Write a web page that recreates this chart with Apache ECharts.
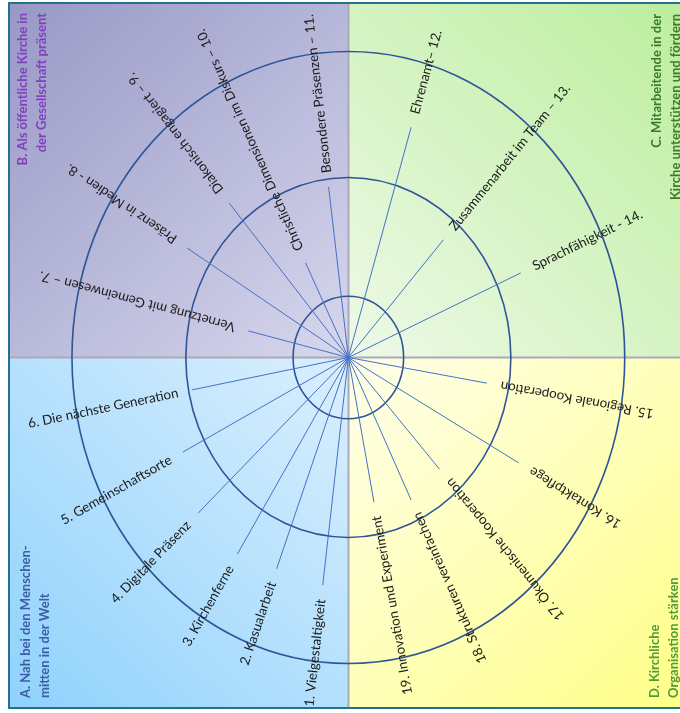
<!DOCTYPE html>
<html><head><meta charset="utf-8">
<script src="https://cdn.jsdelivr.net/npm/echarts/dist/echarts.min.js"></script>
<style>html,body{margin:0;padding:0;background:#fff}#c{width:680px;height:713px}</style>
</head><body><div id="c"></div>
<script>
// Spoke labels (items 1..19)
const labels = [
  '1. Vielgestaltigkeit',
  '2. Kasualarbeit',
  '3. Kirchenferne',
  '4. Digitale Präsenz',
  '5. Gemeinschaftsorte',
  '6. Die nächste Generation',
  'Vernetzung mit Gemeinwesen – 7.',
  'Präsenz in Medien - 8.',
  'Diakonisch engagiert – 9.',
  'Christliche Dimensionen im Diskurs – 10.',
  'Besondere Präsenzen – 11.',
  'Ehrenamt– 12.',
  'Zusammenarbeit im Team – 13.',
  'Sprachfähigkeit - 14.',
  '15. Regionale Kooperation',
  '16. Kontaktpflege',
  '17. Ökumenische Kooperation',
  '18. Strukturen vereinfachen',
  '19. Innovation und Experiment'
];
// Spoke direction (degrees, counter-clockwise from east) and length (ring units)
const angles  = [262.9, 249.4, 238.0, 223.1, 207.3, 190.6, 166.5, 148.5, 130.5, 116.6, 97.3, 73.2, 48.2, 23.9, 350.5, 330.8, 312.1, 296.0, 281.1];
const lengths = [3.75, 3.69, 3.79, 3.72, 3.37, 2.88, 1.86, 3.42, 3.32, 1.73, 2.81, 3.93, 2.58, 3.41, 2.54, 3.53, 2.46, 2.59, 2.41];
// Concentric rings
const ringRadii = [1, 2.94, 5];
// Quadrant titles
const titleA = 'A. Nah bei den Menschen-\nmitten in der Welt';
const titleB = 'B. Als öffentliche Kirche in\nder Gesellschaft präsent';
const titleC = 'C. Mitarbeitende in der\nKirche unterstützen und fördern';
const titleD = 'D. Kirchliche\nOrganisation stärken';

const spokeData = angles.map((a, i) => {
  const r = a * Math.PI / 180;
  return [lengths[i] * Math.cos(r), lengths[i] * Math.sin(r)];
});
const ringData = ringRadii.map(r => [r, 0]);

function grad(x, y, x2, y2, c1, c2) {
  return {type: 'linear', x: x, y: y, x2: x2, y2: y2, colorStops: [{offset: 0, color: c1}, {offset: 1, color: c2}]};
}

const CX = 348.5, CY = 357.5, L = 9, T = 3, R = 692, B = 708;
const TF = 'bold 13px Lato';

const chart = echarts.init(document.getElementById('c'), null, {renderer: 'canvas'});
chart.setOption({
  animation: false,
  grid: {left: CX - 6 * 55.3, top: CY - 5.5 * 61.2, width: 12 * 55.3, height: 11 * 61.2},
  xAxis: {type: 'value', min: -6, max: 6, show: false},
  yAxis: {type: 'value', min: -5.5, max: 5.5, show: false},
  graphic: [
    {type: 'rect', silent: true, z: 0, shape: {x: L, y: T, width: CX - L, height: CY - T},
      style: {fill: grad(0, 0, 1, 1, '#9898c6', '#d7d7ed')}},
    {type: 'rect', silent: true, z: 0, shape: {x: CX, y: T, width: R - CX, height: CY - T},
      style: {fill: grad(0, 1, 1, 0, '#eef9e8', '#bbee9c')}},
    {type: 'rect', silent: true, z: 0, shape: {x: L, y: CY, width: CX - L, height: B - CY},
      style: {fill: grad(1, 0, 0, 1, '#dbeffe', '#8fd2fc')}},
    {type: 'rect', silent: true, z: 0, shape: {x: CX, y: CY, width: R - CX, height: B - CY},
      style: {fill: grad(0, 0, 1, 1, '#fefeea', '#ffff86')}},
    {type: 'line', silent: true, z: 1, shape: {x1: CX, y1: T, x2: CX, y2: B},
      style: {stroke: '#a9a9b8', lineWidth: 2}},
    {type: 'line', silent: true, z: 1, shape: {x1: L, y1: CY, x2: R, y2: CY},
      style: {stroke: '#a9a9b8', lineWidth: 2}},
    {type: 'rect', silent: true, z: 1, shape: {x: L, y: T, width: R - L, height: B - T},
      style: {fill: 'none', stroke: '#23708f', lineWidth: 2}},
    {type: 'text', silent: true, z: 5, x: 32.5, y: 13, rotation: Math.PI / 2,
      style: {text: titleB, fill: '#8040c0', font: TF, align: 'right', verticalAlign: 'middle', lineHeight: 19}},
    {type: 'text', silent: true, z: 5, x: 666, y: 14, rotation: Math.PI / 2,
      style: {text: titleC, fill: '#3c7c26', font: TF, align: 'right', verticalAlign: 'middle', lineHeight: 19}},
    {type: 'text', silent: true, z: 5, x: 35, y: 698, rotation: Math.PI / 2,
      style: {text: titleA, fill: '#3d5ca6', font: TF, align: 'left', verticalAlign: 'middle', lineHeight: 19}},
    {type: 'text', silent: true, z: 5, x: 664, y: 698, rotation: Math.PI / 2,
      style: {text: titleD, fill: '#4e9c3c', font: TF, align: 'left', verticalAlign: 'middle', lineHeight: 19}}
  ],
  series: [
    {
      type: 'custom', name: 'rings', data: ringData, z: 3, silent: true,
      renderItem: function (params, api) {
        const c = api.coord([0, 0]);
        const r = api.value(0);
        const s = api.size([r, r]);
        return {type: 'ellipse', shape: {cx: c[0], cy: c[1], rx: s[0], ry: s[1]},
          style: {fill: 'none', stroke: '#2f5597', lineWidth: 1.6}};
      }
    },
    {
      type: 'custom', name: 'spokes', data: spokeData, z: 4, silent: true,
      renderItem: function (params, api) {
        const i = params.dataIndex;
        const c = api.coord([0, 0]);
        const e = api.coord([api.value(0), api.value(1)]);
        const dx = e[0] - c[0], dy = e[1] - c[1];
        const len = Math.hypot(dx, dy);
        const ux = dx / len, uy = dy / len;
        const theta = Math.atan2(-dy, dx);
        const upper = theta > 0;
        const gap = 14;
        return {type: 'group', children: [
          {type: 'line', shape: {x1: c[0], y1: c[1], x2: e[0], y2: e[1]},
            style: {stroke: '#4472c4', lineWidth: 1}},
          {type: 'text', x: e[0] + ux * gap, y: e[1] + uy * gap,
            rotation: upper ? theta : theta + Math.PI,
            style: {text: labels[i], fill: '#1a1a1a', fontSize: 13.4, fontFamily: 'Lato',
              align: upper ? 'left' : 'right', verticalAlign: 'middle'}}
        ]};
      }
    }
  ]
});
</script>
</body></html>
